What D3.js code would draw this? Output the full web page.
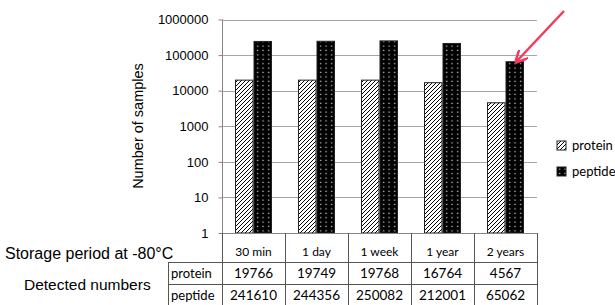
<!DOCTYPE html>
<html>
<head>
<meta charset="utf-8">
<script src="https://cdn.jsdelivr.net/npm/d3@7"></script>
<style>
  body { margin: 0; background: #fff; }
  svg { display: block; }
  .lab { font-family: "Liberation Sans", Arial, sans-serif; fill: #000; }
  .cell { font-family: Lato, "Open Sans", sans-serif; fill: #000; }
</style>
</head>
<body>
<svg></svg>
<script>
var categories = ["30 min", "1 day", "1 week", "1 year", "2 years"];
var series = ["protein", "peptide"];
var protein = [19766, 19749, 19768, 16764, 4567];
var peptide = [241610, 244356, 250082, 212001, 65062];
var yTicks = [1, 10, 100, 1000, 10000, 100000, 1000000];

var svg = d3.select("svg").attr("width", 615).attr("height", 305);

var defs = svg.append("defs");
var hatch = defs.append("pattern")
    .attr("id", "hatch")
    .attr("patternUnits", "userSpaceOnUse")
    .attr("width", 4).attr("height", 4);
hatch.append("rect").attr("width", 4).attr("height", 4).attr("fill", "#fff");
hatch.append("path")
    .attr("d", "M-1,1 l2,-2 M0,4 l4,-4 M3,5 l2,-2")
    .attr("stroke", "#000").attr("stroke-width", 1);

var dots = defs.append("pattern")
    .attr("id", "dots")
    .attr("patternUnits", "userSpaceOnUse")
    .attr("width", 5.5).attr("height", 4.4);
dots.append("rect").attr("width", 5.5).attr("height", 4.4).attr("fill", "#000");
dots.append("rect").attr("x", 2).attr("y", 1.5).attr("width", 1.2).attr("height", 1.2).attr("fill", "#e6e6e6");

var fills = { protein: "url(#hatch)", peptide: "url(#dots)" };
var values = { protein: protein, peptide: peptide };

var plotL = 222, plotR = 537, plotT = 19.5, plotB = 233;

var x0 = d3.scaleBand().domain(categories).range([plotL, plotR]).padding(0);
var x1 = d3.scaleBand().domain(series).range([13, 50]).padding(0);
var y = d3.scaleLog().domain([1, 1000000]).range([plotB, plotT]);

// gridlines
svg.append("g").selectAll("line")
    .data(yTicks.slice(1))
    .join("line")
    .attr("x1", plotL).attr("x2", plotR)
    .attr("y1", d => Math.round(y(d)) + 0.5).attr("y2", d => Math.round(y(d)) + 0.5)
    .attr("stroke", "#a6a6a6");

// y axis
var yAxis = d3.axisLeft(y).tickValues(yTicks).tickFormat(d3.format("d")).tickSize(4).tickPadding(10);
var gY = svg.append("g")
    .attr("transform", "translate(" + (plotL + 0.5) + ",0)")
    .call(yAxis);
gY.select(".domain").attr("stroke", "#868686").attr("d", "M0," + y(1000000) + "V" + plotB);
gY.selectAll(".tick line").attr("stroke", "#868686");
gY.selectAll(".tick text").attr("class", "lab").attr("font-size", 13).attr("fill", "#000");

svg.append("text").attr("class", "lab")
    .attr("transform", "translate(143,126) rotate(-90)")
    .attr("text-anchor", "middle")
    .attr("font-size", 14.5)
    .text("Number of samples");

// bars
var groups = svg.append("g").selectAll("g")
    .data(categories)
    .join("g")
    .attr("transform", d => "translate(" + x0(d) + ",0)");

groups.selectAll("rect")
    .data((d, i) => series.map(s => ({ key: s, value: values[s][i] })))
    .join("rect")
    .attr("x", d => x1(d.key) + 0.5)
    .attr("y", d => y(d.value))
    .attr("width", x1.bandwidth() - 1)
    .attr("height", d => plotB - y(d.value))
    .attr("fill", d => fills[d.key])
    .attr("stroke", "#222")
    .attr("stroke-width", 1);

// legend
var legend = svg.append("g").selectAll("g")
    .data(series)
    .join("g")
    .attr("transform", (d, i) => "translate(557," + (141 + i * 26) + ")");
legend.append("rect")
    .attr("width", 9).attr("height", 9)
    .attr("fill", d => fills[d])
    .attr("stroke", "#222");
legend.append("text").attr("class", "cell")
    .attr("x", 15).attr("y", 9)
    .attr("font-size", 13)
    .text(d => d);

// table
var rowY = [plotB, 262, 284, 306];
var table = svg.append("g").attr("stroke", "#555").attr("shape-rendering", "crispEdges");
table.append("line").attr("x1", plotL).attr("x2", plotR).attr("y1", plotB + 0.5).attr("y2", plotB + 0.5).attr("stroke", "#868686");
[262, 284].forEach(function (ry) {
  table.append("line").attr("x1", 168).attr("x2", plotR).attr("y1", ry).attr("y2", ry);
});
table.append("line").attr("x1", 168).attr("x2", 168).attr("y1", 262).attr("y2", 306);
categories.forEach(function (c) {
  table.append("line").attr("x1", x0(c)).attr("x2", x0(c)).attr("y1", plotB).attr("y2", 306);
});
table.append("line").attr("x1", plotR).attr("x2", plotR).attr("y1", plotB).attr("y2", 306);

svg.append("g").selectAll("text")
    .data(categories)
    .join("text").attr("class", "cell")
    .attr("x", d => x0(d) + x0.bandwidth() / 2)
    .attr("y", 256)
    .attr("text-anchor", "middle")
    .attr("font-size", 12)
    .text(d => d);

series.forEach(function (s, r) {
  var cy = (rowY[r + 1] + rowY[r + 2]) / 2 + 5;
  svg.append("text").attr("class", "cell")
      .attr("x", 171).attr("y", cy)
      .attr("font-size", 13)
      .text(s);
  svg.append("g").selectAll("text")
      .data(values[s])
      .join("text").attr("class", "cell")
      .attr("x", (d, i) => x0(categories[i]) + x0.bandwidth() / 2)
      .attr("y", cy)
      .attr("text-anchor", "middle")
      .attr("font-size", 13.5)
      .text(d => d);
});

svg.append("text").attr("class", "lab")
    .attr("x", 5).attr("y", 259)
    .attr("font-size", 16)
    .text("Storage period at -80\u00B0C");
svg.append("text").attr("class", "lab")
    .attr("x", 24).attr("y", 290)
    .attr("font-size", 15.5)
    .text("Detected numbers");

// arrow
defs.append("marker")
    .attr("id", "head")
    .attr("viewBox", "0 0 10 10")
    .attr("refX", 9).attr("refY", 5)
    .attr("markerWidth", 5).attr("markerHeight", 5)
    .attr("orient", "auto")
    .append("path")
    .attr("d", "M0,0 L10,5 L0,10")
    .attr("fill", "none")
    .attr("stroke", "#f23a5e")
    .attr("stroke-width", 2);
svg.append("line")
    .attr("x1", 564).attr("y1", 11)
    .attr("x2", 516).attr("y2", 62)
    .attr("stroke", "#f23a5e")
    .attr("stroke-width", 2.5)
    .attr("marker-end", "url(#head)");
</script>
</body>
</html>
